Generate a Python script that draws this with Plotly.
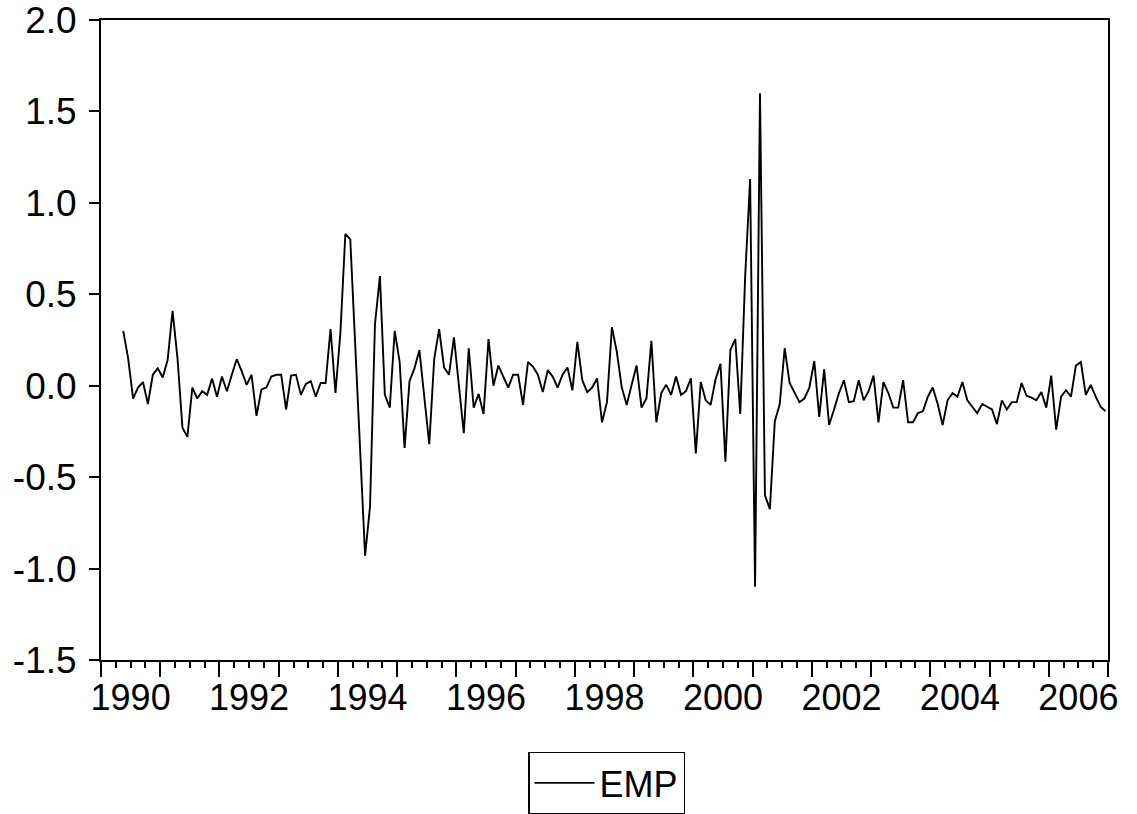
import plotly.graph_objects as go

# Monthly EMP series, starting 1990M5
start_year = 1990
start_month = 5
emp = [
    0.30, 0.15, -0.07, -0.01, 0.02, -0.10, 0.06, 0.095, 0.045, 0.14,
    0.41, 0.15, -0.23, -0.28, -0.01, -0.07, -0.03, -0.05, 0.04, -0.06,
    0.05, -0.03, 0.06, 0.145, 0.08, 0.005, 0.06, -0.165, -0.02, -0.01,
    0.05, 0.06, 0.06, -0.13, 0.055, 0.06, -0.05, 0.01, 0.025, -0.06,
    0.015, 0.015, 0.31, -0.04, 0.29, 0.83, 0.80, 0.20, -0.40, -0.93,
    -0.66, 0.335, 0.60, -0.05, -0.12, 0.30, 0.13, -0.34, 0.025, 0.095,
    0.195, -0.06, -0.32, 0.145, 0.31, 0.10, 0.06, 0.265, 0.0, -0.26,
    0.205, -0.12, -0.045, -0.155, 0.255, 0.0, 0.11, 0.05, -0.01, 0.06,
    0.06, -0.105, 0.13, 0.105, 0.06, -0.035, 0.085, 0.05, -0.01, 0.06,
    0.10, -0.025, 0.24, 0.03, -0.035, -0.01, 0.04, -0.20, -0.09, 0.32,
    0.185, -0.01, -0.105, 0.005, 0.11, -0.12, -0.07, 0.245, -0.20, -0.04,
    0.005, -0.05, 0.05, -0.05, -0.03, 0.04, -0.37, 0.02, -0.08, -0.105,
    0.035, 0.12, -0.415, 0.195, 0.255, -0.155, 0.60, 1.13, -1.10, 1.60,
    -0.60, -0.675, -0.195, -0.10, 0.205, 0.015, -0.04, -0.09, -0.07, -0.01,
    0.135, -0.17, 0.09, -0.215, -0.13, -0.04, 0.03, -0.09, -0.085, 0.03,
    -0.08, -0.03, 0.055, -0.20, 0.02, -0.04, -0.12, -0.12, 0.03, -0.20,
    -0.20, -0.15, -0.14, -0.06, -0.01, -0.10, -0.215, -0.08, -0.04, -0.06,
    0.02, -0.08, -0.115, -0.15, -0.10, -0.115, -0.13, -0.21, -0.08, -0.13,
    -0.09, -0.09, 0.015, -0.055, -0.065, -0.08, -0.035, -0.12, 0.055, -0.24,
    -0.06, -0.025, -0.06, 0.11, 0.13, -0.05, 0.005, -0.06, -0.115, -0.14,
]

year_labels = [str(y) for y in range(1990, 2007, 2)]
year_label_pos = [y + 0.5 for y in range(1990, 2007, 2)]
year_ticks = list(range(1990, 2008))
y_ticks = [-1.5, -1.0, -0.5, 0.0, 0.5, 1.0, 1.5, 2.0]
y_tick_text = ["-1.5", "-1.0", "-0.5", "0.0", "0.5", "1.0", "1.5", "2.0"]

x_vals = [start_year + (start_month - 1 + i + 0.5) / 12 for i in range(len(emp))]

FONT = "Arial, 'Liberation Sans', sans-serif"

fig = go.Figure()
fig.add_trace(go.Scatter(
    x=x_vals, y=emp, mode="lines", name="EMP",
    line=dict(color="black", width=1.9),
))
# helper trace so the tick-mark axis is rendered
fig.add_trace(go.Scatter(
    x=[year_ticks[0], year_ticks[-1]], y=[None, None], xaxis="x2",
    mode="lines", showlegend=False, hoverinfo="skip",
))

fig.update_layout(
    width=1137, height=814,
    paper_bgcolor="white", plot_bgcolor="white",
    margin=dict(l=101, r=29, t=20, b=154, autoexpand=False),
    font=dict(family=FONT, size=36, color="black"),
    showlegend=True,
    legend=dict(
        x=0.502, y=-0.143, xanchor="center", yanchor="top",
        orientation="h", bordercolor="black", borderwidth=1.5,
        bgcolor="white", font=dict(size=36, family=FONT, color="black"),
        itemwidth=60,
    ),
    xaxis=dict(
        range=[year_ticks[0], year_ticks[-1]],
        tickmode="array", tickvals=year_label_pos, ticktext=year_labels,
        ticks="outside", ticklen=5, tickcolor="rgba(0,0,0,0)",
        showline=True, linecolor="black", linewidth=2, mirror=True,
        showgrid=False, zeroline=False, automargin=False,
        ticklabeloverflow="allow",
        tickfont=dict(size=36, family=FONT, color="black"),
    ),
    xaxis2=dict(
        overlaying="x", side="bottom",
        range=[year_ticks[0], year_ticks[-1]],
        tickmode="array", tickvals=year_ticks,
        ticks="outside", ticklen=16, tickwidth=2, tickcolor="black",
        showticklabels=False, showgrid=False, zeroline=False, showline=False,
        automargin=False,
        minor=dict(dtick=0.25, tick0=1990, ticks="outside", ticklen=7,
                   tickwidth=2, tickcolor="black", showgrid=False),
    ),
    yaxis=dict(
        range=[-1.5, 2.0],
        tickmode="array", tickvals=y_ticks, ticktext=y_tick_text,
        ticks="outside", ticklen=10, tickwidth=2, tickcolor="black",
        showline=True, linecolor="black", linewidth=2, mirror=True,
        showgrid=False, zeroline=False, automargin=False,
        ticklabeloverflow="allow", ticklabelstandoff=5,
        tickfont=dict(size=37, family=FONT, color="black"),
    ),
)

# remove the default page margin so the figure fills the window exactly
fig.write_html("out.html", config={"displayModeBar": False},
               post_script="document.body.style.margin='0';")
